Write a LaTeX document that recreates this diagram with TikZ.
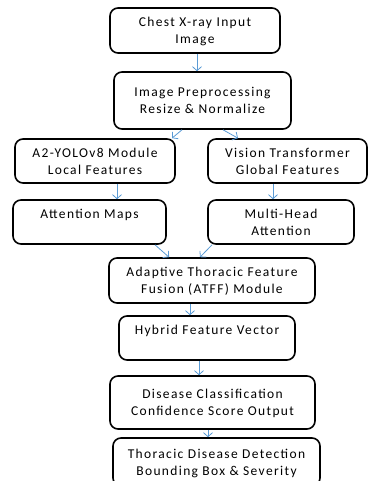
\documentclass[tikz,border=0pt]{standalone}
\usepackage{fontspec}
\setmainfont{Carlito}[LetterSpace=10]
\usepackage{tikz}
\usetikzlibrary{arrows.meta}
\definecolor{flowblue}{RGB}{91,155,213}

\begin{document}
\begin{tikzpicture}[x=1pt,y=1pt,yscale=-1,xscale=1,
  box/.style={draw=black, line width=1.6pt, rounded corners=8pt, align=center, inner sep=0pt, text depth=0pt, font=\fontsize{13.5}{17}\selectfont},
  flow/.style={draw=flowblue, line width=0.8pt, -{Straight Barb[length=4pt,width=9pt]}}]
\useasboundingbox (0,0) rectangle (369,481);

% Rounded Rect + Text Node
\node (input) [box, minimum width=170pt, minimum height=45pt] at (195,30.5) {Chest X-ray Input\\Image};
\node (prep) [box, minimum width=177pt, minimum height=57pt] at (202.5,100.5) {Image Preprocessing\\Resize \& Normalize};
\node (yolo) [box, minimum width=160pt, minimum height=44pt] at (95,161) {A2-YOLOv8 Module\\Local Features};
\node (vit) [box, minimum width=159pt, minimum height=44pt] at (287.5,161) {Vision Transformer\\Global Features};
\node (attn) [box, minimum width=153pt, minimum height=44pt] at (89.5,222) {Attention Maps\\\mbox{}};
\node (mha) [box, minimum width=146pt, minimum height=44pt] at (281,222) {Multi-Head\\Attention};
\node (atff) [box, minimum width=206pt, minimum height=45pt] at (212,280.5) {Adaptive Thoracic Feature\\Fusion (ATFF) Module};
\node (hybrid) [box, minimum width=176pt, minimum height=44pt] at (207,338) {Hybrid Feature Vector\\\mbox{}};
\node (cls) [box, minimum width=205pt, minimum height=53pt] at (212.5,402.5) {Disease Classification\\Confidence Score Output};
\node (det) [box, minimum width=207pt, minimum height=48pt] at (216.5,462) {Thoracic Disease Detection\\Bounding Box \& Severity};

% Straight Lines
\draw [flow] ([xshift=2pt]input.south) -- ([xshift=2pt]input.south |- prep.north);
\draw [flow] ([xshift=-20.5pt]prep.south) -- ([xshift=77pt]yolo.north);
\draw [flow] ([xshift=20.5pt]prep.south) -- ([xshift=-49.5pt]vit.north);
\draw [flow] ([xshift=22pt]yolo.south) -- ([xshift=22pt]yolo.south |- attn.north);
\draw [flow] ([xshift=-14.5pt]vit.south) -- ([xshift=-14.5pt]vit.south |- mha.north);
\draw [flow] ([xshift=65.5pt]attn.south) -- ([xshift=-43pt]atff.north);
\draw [flow] ([xshift=-69pt]mha.south) -- ([xshift=-12pt]atff.north);
\draw [flow] ([xshift=-22pt]atff.south) -- ([xshift=-22pt]atff.south |- hybrid.north);
\draw [flow] ([xshift=-8pt]hybrid.south) -- ([xshift=-8pt]hybrid.south |- cls.north);
\draw [flow] ([xshift=-4.5pt]cls.south) -- ([xshift=-4.5pt]cls.south |- det.north);

\end{tikzpicture}
\end{document}
